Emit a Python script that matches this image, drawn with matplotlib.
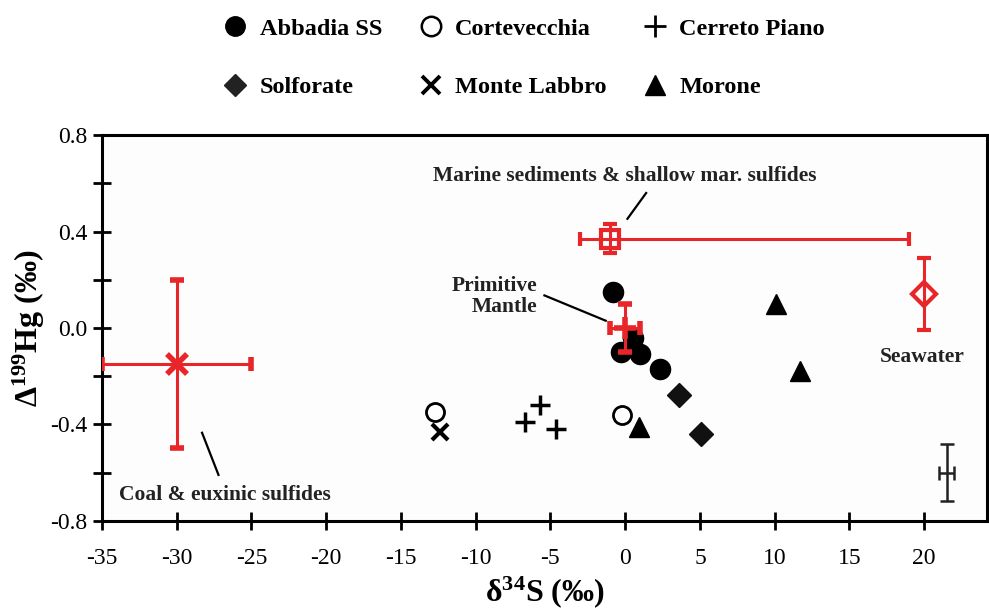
import matplotlib.pyplot as plt
from matplotlib.lines import Line2D

plt.rcParams["font.family"] = ["Liberation Serif", "DejaVu Serif"]
plt.rcParams["mathtext.default"] = "regular"

RED = "#e8262a"

# Hg-S isotope data by locality
abbadia_x = [-0.8, -0.3, 0.5, 1.0, 2.3]
abbadia_y = [0.15, -0.10, -0.04, -0.11, -0.17]
cortevecchia_x = [-12.7, -0.2]
cortevecchia_y = [-0.35, -0.36]
cerreto_x = [-6.7, -5.7, -4.6]
cerreto_y = [-0.39, -0.32, -0.42]
solforate_x = [3.6, 5.1]
solforate_y = [-0.28, -0.44]
labbro_x = [-12.4]
labbro_y = [-0.43]
morone_x = [0.9, 10.1, 11.7]
morone_y = [-0.41, 0.10, -0.18]

# reference reservoirs (value, error)
coal_x, coal_y, coal_xerr, coal_yerr = -30, -0.15, 5, 0.35
marine_x, marine_y = -1, 0.37
marine_xerr = [[2], [20]]
marine_yerr = 0.06
mantle_x, mantle_y, mantle_xerr, mantle_yerr = 0, 0, 1, 0.1
sea_x, sea_y, sea_yerr = 20, 0.14, 0.15
# typical analytical uncertainty
unc_x, unc_y, unc_xerr, unc_yerr = 21.5, -0.6, 0.5, 0.12

fig = plt.figure(figsize=(9.89, 6.09), dpi=100)
ax = fig.add_axes([0.103, 0.145, 0.895, 0.633])
ax.set_facecolor("#fdfdfd")

eb = dict(color=RED, ecolor=RED, elinewidth=2.2, capsize=5, capthick=2.2,
          linestyle="none", zorder=3)
ax.errorbar(coal_x, coal_y, xerr=coal_xerr, yerr=coal_yerr, marker="x",
            ms=15, mew=4, **eb)
ax.errorbar(marine_x, marine_y, xerr=marine_xerr, yerr=marine_yerr, marker="s",
            ms=13, mew=3, mfc="none", mec=RED, **eb)
ax.errorbar(sea_x, sea_y, yerr=sea_yerr, marker="D", ms=12, mew=3,
            mfc="none", mec=RED, **eb)
ax.errorbar(unc_x, unc_y, xerr=unc_xerr, yerr=unc_yerr, color="#222222",
            elinewidth=1.8, capsize=5, capthick=1.8, linestyle="none")

ax.plot(cortevecchia_x, cortevecchia_y, "o", ms=13, mfc="white", mec="black",
        mew=2, zorder=4)
ax.plot(labbro_x, labbro_y, "x", ms=12, mec="black", mew=3, zorder=4)
ax.plot(cerreto_x, cerreto_y, "+", ms=14, mec="black", mew=2.5, zorder=4)
ax.plot(solforate_x, solforate_y, "D", ms=12, color="#111111", zorder=4)
ax.plot(morone_x, morone_y, "^", ms=15, color="black", zorder=4)
ax.plot(abbadia_x, abbadia_y, "o", ms=14.5, color="black", zorder=4)

ax.errorbar(mantle_x, mantle_y, xerr=mantle_xerr, yerr=mantle_yerr, marker="+",
            ms=16, mew=4, **{**eb, "zorder": 5})

# annotations
tkw = dict(fontsize=15.5, fontweight="bold", color="#222222")
ax.text(0, 0.632, "Marine sediments & shallow mar. sulfides", ha="center",
        va="center", **tkw)
ax.plot([1.4, 0.15], [0.56, 0.453], color="black", lw=1.6)
ax.text(-5.9, 0.13, "Primitive\nMantle", ha="right", va="center",
        multialignment="right", linespacing=1.05, **tkw)
ax.plot([-5.4, -1.3], [0.135, 0.03], color="black", lw=1.6)
ax.text(19.9, -0.12, "Seawater", ha="center", va="center", **tkw)
ax.text(-26.8, -0.695, "Coal & euxinic sulfides", ha="center", va="center", **tkw)
ax.plot([-28.3, -27.2], [-0.435, -0.61], color="black", lw=1.6)

ax.set_xlim(-35, 24.2)
ax.set_ylim(-0.8, 0.8)
ax.set_xticks(range(-35, 21, 5))
ax.set_xticklabels([str(v) for v in range(-35, 21, 5)])
ax.set_yticks([0.8, 0.4, 0.0, -0.4, -0.8])
ax.set_yticklabels(["0.8", "0.4", "0.0", "-0.4", "-0.8"])
ax.set_yticks([0.6, 0.2, -0.2, -0.6], minor=True)
ax.tick_params(which="both", direction="inout", length=13, width=2,
               labelsize=17, pad=4)
ax.tick_params(axis="x", pad=13)
for s in ax.spines.values():
    s.set_linewidth(2.2)

ax.set_xlabel("δ$^{34}$S (‰)", fontsize=23, fontweight="bold", labelpad=4)
ax.set_ylabel("Δ$^{199}$Hg (‰)", fontsize=23, fontweight="bold", labelpad=2)

handles = [
    Line2D([], [], ls="none", marker="o", ms=14, color="black"),
    Line2D([], [], ls="none", marker="D", ms=11, color="#222222"),
    Line2D([], [], ls="none", marker="o", ms=14, mfc="white", mec="black", mew=1.8),
    Line2D([], [], ls="none", marker="x", ms=13, mec="black", mew=2.8),
    Line2D([], [], ls="none", marker="+", ms=16, mec="black", mew=2),
    Line2D([], [], ls="none", marker="^", ms=15, color="black"),
]
labels = ["Abbadia SS", "Solforate", "Cortevecchia", "Monte Labbro",
          "Cerreto Piano", "Morone"]
fig.legend(handles, labels, ncol=3, loc="center", bbox_to_anchor=(0.53, 0.905),
           frameon=False, prop=dict(size=17.5, weight="bold"), labelspacing=1.5,
           columnspacing=1.5, handletextpad=0.5, handlelength=1.0)

fig.savefig("out.png", dpi=100)
